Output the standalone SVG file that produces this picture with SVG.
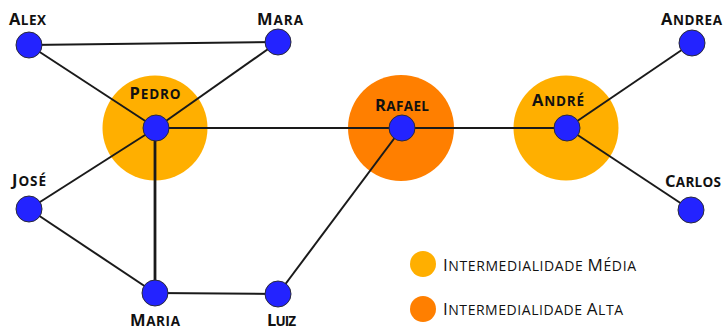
<svg xmlns="http://www.w3.org/2000/svg" width="723" height="329" viewBox="0 0 723 329">
  <style>
    .edge { stroke: #1a1a1a; stroke-width: 2; fill: none; }
    .thick { stroke-width: 2.8; }
    .node { fill: #2323ff; stroke: #2a2a3a; stroke-width: 1; }
    .mid { fill: #ffaf00; }
    .high { fill: #ff7f00; }
    .label { font-family: "Open Sans", Lato, "Liberation Sans", sans-serif; font-weight: bold; font-size: 16.5px; fill: #111; text-anchor: middle; }
    .legend { font-family: "Open Sans", Lato, "Liberation Sans", sans-serif; font-size: 17px; fill: #111; }
    .sc { font-size: 13.5px; }
    .lsc { font-size: 14px; }
  </style>
  <rect width="723" height="329" fill="#ffffff"/>

  <!-- betweenness halos -->
  <g id="halos">
    <circle class="mid" cx="155" cy="128" r="52.5"/>
    <circle class="high" cx="401" cy="128" r="53"/>
    <circle class="mid" cx="566" cy="128" r="52.5"/>
  </g>

  <!-- connections -->
  <g id="edges">
    <line class="edge" x1="29" y1="45" x2="278" y2="42"/>
    <line class="edge" x1="29" y1="45" x2="156" y2="128"/>
    <line class="edge" x1="278" y1="42" x2="156" y2="128"/>
    <line class="edge" x1="156" y1="128" x2="402" y2="128"/>
    <line class="edge" x1="156" y1="128" x2="29" y2="209"/>
    <line class="edge thick" x1="155" y1="128" x2="155" y2="293"/>
    <line class="edge" x1="29" y1="209" x2="155" y2="293"/>
    <line class="edge" x1="155" y1="293" x2="278" y2="294"/>
    <line class="edge" x1="278" y1="294" x2="402" y2="128"/>
    <line class="edge" x1="402" y1="128" x2="567" y2="128"/>
    <line class="edge" x1="567" y1="128" x2="692" y2="43"/>
    <line class="edge" x1="567" y1="128" x2="691" y2="210"/>
  </g>

  <!-- nodes: labels set in small capitals -->
  <g id="alex"><circle class="node" cx="29" cy="45" r="13"/><text class="label" x="27.5" y="24.5" textLength="37" lengthAdjust="spacing">A<tspan class="sc">LEX</tspan></text></g>
  <g id="mara"><circle class="node" cx="278" cy="42" r="13"/><text class="label" x="280" y="25" textLength="46" lengthAdjust="spacing">M<tspan class="sc">ARA</tspan></text></g>
  <g id="pedro"><circle class="node" cx="156" cy="128" r="13"/><text class="label" x="155" y="99" textLength="51" lengthAdjust="spacing">P<tspan class="sc">EDRO</tspan></text></g>
  <g id="rafael"><circle class="node" cx="402" cy="128" r="13"/><text class="label" x="402" y="111" textLength="54" lengthAdjust="spacing">R<tspan class="sc">AFAEL</tspan></text></g>
  <g id="andre"><circle class="node" cx="567" cy="128" r="13"/><text class="label" x="558" y="106" textLength="52" lengthAdjust="spacing">A<tspan class="sc">NDRÉ</tspan></text></g>
  <g id="andrea"><circle class="node" cx="692" cy="43" r="13"/><text class="label" x="691.5" y="24.5" textLength="61" lengthAdjust="spacing">A<tspan class="sc">NDREA</tspan></text></g>
  <g id="carlos"><circle class="node" cx="691" cy="210" r="13"/><text class="label" x="693" y="186.5" textLength="56" lengthAdjust="spacing">C<tspan class="sc">ARLOS</tspan></text></g>
  <g id="jose"><circle class="node" cx="29" cy="209" r="13"/><text class="label" x="29" y="186" textLength="34" lengthAdjust="spacing">J<tspan class="sc">OSÉ</tspan></text></g>
  <g id="maria"><circle class="node" cx="155" cy="293" r="13"/><text class="label" x="155" y="325.5" textLength="50" lengthAdjust="spacing">M<tspan class="sc">ARIA</tspan></text></g>
  <g id="luiz"><circle class="node" cx="278" cy="294" r="13"/><text class="label" x="281.5" y="325.5" textLength="29" lengthAdjust="spacing">L<tspan class="sc">UIZ</tspan></text></g>

  <!-- legend -->
  <g id="legend">
    <circle class="mid" cx="423" cy="264" r="13"/>
    <text class="legend" x="443" y="270.5" textLength="193" lengthAdjust="spacing">I<tspan class="lsc">NTERMEDIALIDADE </tspan>M<tspan class="lsc">ÉDIA</tspan></text>
    <circle class="high" cx="423" cy="309" r="13"/>
    <text class="legend" x="443" y="314.5" textLength="180" lengthAdjust="spacing">I<tspan class="lsc">NTERMEDIALIDADE </tspan>A<tspan class="lsc">LTA</tspan></text>
  </g>
</svg>
